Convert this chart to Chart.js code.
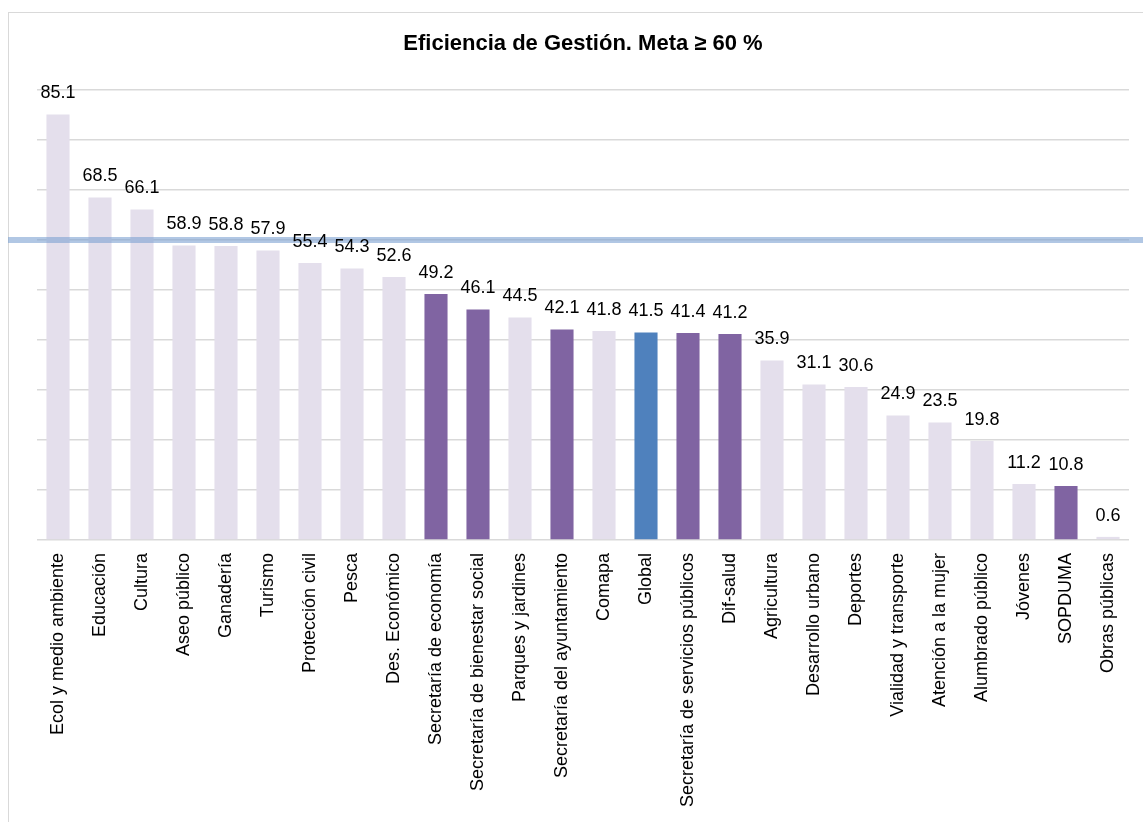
<!DOCTYPE html>
<html lang="es">
<head>
<meta charset="utf-8">
<title>Eficiencia de Gestión</title>
<script src="https://cdn.jsdelivr.net/npm/chart.js@4/dist/chart.umd.min.js"></script>
<style>
  html, body { margin: 0; padding: 0; background: #fff; }
  #wrap { position: relative; width: 1143px; height: 822px; overflow: hidden; }
  #frame {
    position: absolute; left: 8px; top: 12px; width: 1140px; height: 820px;
    border: 1px solid #d9d9d9; box-sizing: border-box;
  }
  #chart { position: absolute; left: 0; top: 0; }
</style>
</head>
<body>
<div id="wrap">
  <div id="frame"></div>
  <canvas id="chart" width="1143" height="822"></canvas>
</div>
<script>
// ---- Data ----
const categories = [
  "Ecol y medio ambiente", "Educación", "Cultura", "Aseo público", "Ganadería",
  "Turismo", "Protección civil", "Pesca", "Des. Económico", "Secretaría de economía",
  "Secretaría de bienestar social", "Parques y jardines", "Secretaría del ayuntamiento",
  "Comapa", "Global", "Secretaría de servicios públicos", "Dif-salud", "Agricultura",
  "Desarrollo urbano", "Deportes", "Vialidad y transporte", "Atención a la mujer",
  "Alumbrado público", "Jóvenes", "SOPDUMA", "Obras públicas"
];
const values = [
  85.1, 68.5, 66.1, 58.9, 58.8, 57.9, 55.4, 54.3, 52.6, 49.2,
  46.1, 44.5, 42.1, 41.8, 41.5, 41.4, 41.2, 35.9, 31.1, 30.6,
  24.9, 23.5, 19.8, 11.2, 10.8, 0.6
];
// highlighted bars
const secretarias = [
  "Secretaría de economía", "Secretaría de bienestar social",
  "Secretaría del ayuntamiento", "Secretaría de servicios públicos",
  "Dif-salud", "SOPDUMA"
];
const globalLabel = "Global";
const meta = 60;
const yTicks = { min: 0, max: 90, step: 10 };

// ---- Colors ----
const COLOR_LIGHT = "#e4dfec";
const COLOR_PURPLE = "#8064a2";
const COLOR_BLUE = "#4f81bd";

const barColors = categories.map((c) => {
  if (c === globalLabel) return COLOR_BLUE;
  if (secretarias.includes(c)) return COLOR_PURPLE;
  return COLOR_LIGHT;
});

Chart.defaults.font.family = 'Arial, "Liberation Sans", sans-serif';
Chart.defaults.color = "#000";

// ---- Meta line (60 %) ----
const metaLine = {
  id: "metaLine",
  afterDatasetsDraw(chart) {
    const y = chart.scales.y.getPixelForValue(meta);
    const ctx = chart.ctx;
    ctx.save();
    ctx.strokeStyle = "rgba(125,162,210,0.6)";
    ctx.lineWidth = 6;
    ctx.beginPath();
    ctx.moveTo(8, y);
    ctx.lineTo(chart.width, y);
    ctx.stroke();
    ctx.restore();
  },
};

// ---- Value labels ----
const valueLabels = {
  id: "valueLabels",
  afterDraw(chart) {
    const ctx = chart.ctx;
    const bars = chart.getDatasetMeta(0).data;
    ctx.save();
    ctx.font = '18px Arial, "Liberation Sans", sans-serif';
    ctx.fillStyle = "#000";
    ctx.textAlign = "center";
    ctx.textBaseline = "middle";
    bars.forEach((bar, i) => {
      ctx.fillText(values[i].toFixed(1), bar.x, bar.y - 21);
    });
    ctx.restore();
  },
};

new Chart(document.getElementById("chart"), {
  type: "bar",
  data: {
    labels: categories,
    datasets: [
      {
        data: values,
        backgroundColor: barColors,
        borderWidth: 0,
        barPercentage: 0.55,
        categoryPercentage: 1.0,
      },
    ],
  },
  options: {
    responsive: false,
    animation: false,
    layout: { padding: { top: 0, left: 37, right: 14, bottom: 2 } },
    plugins: {
      legend: { display: false },
      tooltip: { enabled: false },
      title: {
        display: true,
        text: "Eficiencia de Gestión. Meta ≥ 60 %",
        font: { size: 22, weight: "bold" },
        color: "#000",
        padding: { top: 31, bottom: 32.6 },
      },
    },
    scales: {
      x: {
        grid: { display: false, drawTicks: false },
        border: { display: false },
        ticks: {
          autoSkip: false,
          minRotation: 90,
          maxRotation: 90,
          padding: 13,
          font: { size: 18 },
          color: "#000",
        },
      },
      y: {
        min: yTicks.min,
        max: yTicks.max,
        ticks: { display: false, stepSize: yTicks.step },
        grid: { color: "#d9d9d9", lineWidth: 1.5, drawTicks: false },
        border: { display: false },
      },
    },
  },
  plugins: [metaLine, valueLabels],
});
</script>
</body>
</html>
